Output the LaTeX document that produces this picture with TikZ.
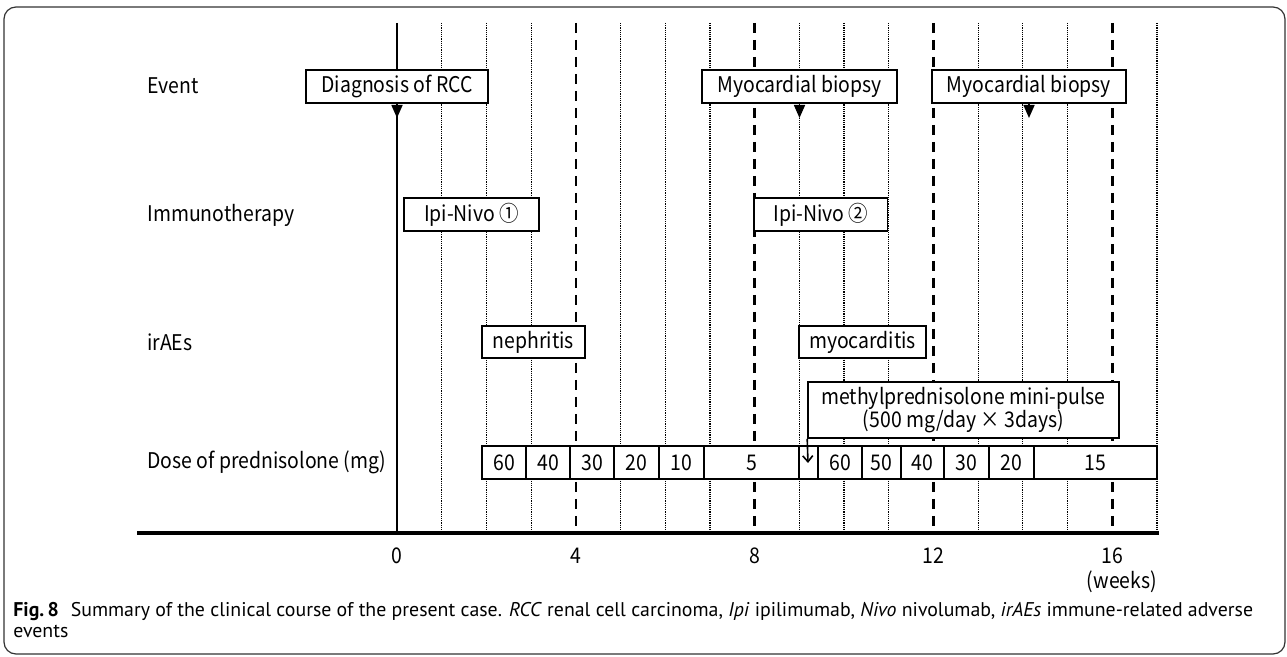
\documentclass[tikz,border=0pt]{standalone}
\usepackage{fontspec}
\setmainfont[FakeStretch=0.9]{Noto Sans CJK JP}
\newfontfamily\capfont{PT Sans}
\usetikzlibrary{arrows.meta}
\begin{document}
\begin{tikzpicture}[x=0.5pt,y=-0.5pt,
  lbl/.style={inner sep=0pt, font=\fontsize{10.8}{12}\selectfont},
  box/.style={draw, line width=0.8pt, fill=white, inner sep=0pt, minimum height=16.5pt, font=\fontsize{10.8}{12}\selectfont},
  dotline/.style={line width=0.6pt, dash pattern=on 0.6pt off 0.5pt},
  dashline/.style={line width=1.3pt, dash pattern=on 5pt off 3.5pt},
  evarrow/.style={line width=0.8pt, -{Triangle[width=5.5pt,length=6.5pt]}},
  pulsearrow/.style={line width=0.8pt, -{Straight Barb[width=5pt,length=3pt]}},
  caption/.style={inner sep=0pt, anchor=west, font=\capfont\fontsize{9.92}{12}\selectfont}]
\useasboundingbox (0,0) rectangle (1287,657);
% frame
\draw[line width=0.6pt, black!80, rounded corners=6pt] (4,7) rectangle (1285,654);
% grid
\foreach \w in {1,2,3,5,6,7,9,10,11,13,14,15,17}
  \draw[dotline] ({397+44.7*\w},23) -- ({397+44.7*\w},533);
\foreach \w in {4,8,12,16}
  \draw[dashline] ({397+44.7*\w},23) -- ({397+44.7*\w},533);
\draw[line width=1.3pt] (397,23) -- (397,533);
\draw[line width=1.6pt] (137,533) -- (1159,533);
% row labels
\node[lbl, anchor=west] (lev) at (147,86) {Event};
\node[lbl, anchor=west] (lim) at (147,215) {Immunotherapy};
\node[lbl, anchor=west] (lir) at (147,342) {irAEs};
\node[lbl, anchor=west] (ldo) at (147,462) {Dose of prednisolone (mg)};
% events
\node[box, minimum width=91pt] (diag) at (397,86.5) {Diagnosis of RCC};
\node[box, minimum width=97.5pt] (bio1) at (799.5,86.5) {Myocardial biopsy};
\node[box, minimum width=97pt] (bio2) at (1029,86.5) {Myocardial biopsy};
\coordinate (diagtip) at (397,118);
\coordinate (bio1tip) at (799.5,118);
\coordinate (bio2tip) at (1029,118);
\draw[evarrow] (diag.south) -- (diagtip);
\draw[evarrow] (bio1.south) -- (bio1tip);
\draw[evarrow] (bio2.south) -- (bio2tip);
% immunotherapy
\node[box, minimum width=67.5pt] (ipi1) at (471.5,214.5) {Ipi-Nivo ①};
\node[box, minimum width=66.75pt] (ipi2) at (820.75,214.5) {Ipi-Nivo ②};
% irAEs
\node[box, minimum width=51.5pt, minimum height=16pt] (neph) at (533.5,342) {nephritis};
\node[box, minimum width=63.5pt, minimum height=16pt] (myoc) at (862.5,342) {myocarditis};
% dose row
\foreach \l/\r/\t [count=\i] in {482/526/60, 526/570/40, 570/614/30, 614/659/20, 659/704/10, 704/799/5, 799/818/{}, 818/862/60, 862/901/50, 901/944/40, 944/989/30, 989/1034/20, 1034/1157/15}{
  \pgfmathsetmacro\cellw{(\r-\l)/2}
  \pgfmathsetmacro\cellx{(\r+\l)/2}
  \node[box, minimum width=\cellw pt] (d\i) at (\cellx,462.5) {\t};
}
% methylprednisolone pulse
\node[box, minimum width=155.5pt, minimum height=28pt, align=center, font=\fontsize{10.8}{11.5}\selectfont] (methyl) at (963.5,410) {methylprednisolone mini-pulse\\(500 mg/day × 3days)};
\coordinate (mtip) at (808,463);
\draw[pulsearrow] (methyl.south west) -- (mtip);
% axis numbers
\node[lbl] (n0) at (397,556) {0};
\node[lbl] (n4) at (575.8,556) {4};
\node[lbl] (n8) at (754.6,556) {8};
\node[lbl] (n12) at (933.4,556) {12};
\node[lbl] (n16) at (1112.2,556) {16};
\node[lbl] (wk) at (1122,582) {(weeks)};
% caption
\node[caption] (cap1) at (13,612) {\textbf{Fig.\,8}\hspace{0.6em}Summary of the clinical course of the present case. \textit{RCC} renal cell carcinoma, \textit{Ipi} ipilimumab, \textit{Nivo} nivolumab, \textit{irAEs} immune-related adverse};
\node[caption] (cap2) at (13,631) {events};
\end{tikzpicture}
\end{document}
